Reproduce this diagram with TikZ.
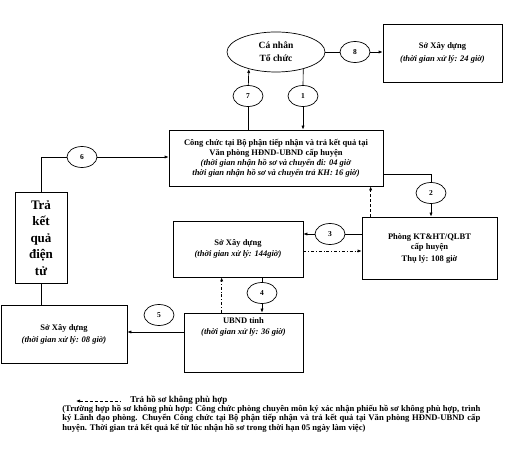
\documentclass[tikz,border=0pt]{standalone}
\usepackage{fontspec}
\setmainfont{Liberation Serif}
\usetikzlibrary{shapes.geometric,arrows.meta}

\begin{document}
\begin{tikzpicture}
  [ x=1pt, y=-1pt
  , line width=0.7pt
  , >={Latex[length=4pt,width=3.2pt]}
  , box/.style={draw=black,shape=rectangle,inner sep=0pt,align=center,
                font=\fontsize{8.5}{10}\selectfont}
  , num/.style={draw=black,shape=ellipse,fill=white,inner sep=0pt,
                minimum width=30pt,minimum height=21pt,
                font=\bfseries\fontsize{7.5}{8}\selectfont}
  , back/.style={dashed,dash pattern=on 3pt off 2pt}
  , fwd/.style={dash dot}
  ]
  \useasboundingbox (0,0) rectangle (512,454);

  % doi tuong
  \node[draw,shape=ellipse,minimum width=98pt,minimum height=40pt,align=center,
        font=\bfseries\fontsize{9.5}{13}\selectfont] (canhan) at (276,52) {Cá nhân\\Tổ chức};
  \node[box,minimum width=119pt,minimum height=58pt] (sxdtop) at (442.5,53)
    {\textbf{Sở Xây dựng}\\[3pt]\textbf{\textit{(thời gian xử lý: 24 giờ)}}};
  \node[box,minimum width=214pt,minimum height=56pt] (canbo) at (276,158)
    {\textbf{Công chức tại Bộ phận tiếp nhận và trả kết quả tại}\\
     \textbf{Văn phòng HĐND-UBND cấp huyện}\\
     \textbf{\textit{(thời gian nhận hồ sơ và chuyển đi: 04 giờ}}\\
     \textbf{\textit{thời gian nhận hồ sơ và chuyển trả KH: 16 giờ)}}};
  \node[box,minimum width=52pt,minimum height=91pt,
        font=\bfseries\fontsize{13}{16.5}\selectfont] (trakq) at (41,238)
    {Trả\\kết\\quả\\điện\\tử};
  \node[box,minimum width=135pt,minimum height=62pt] (phong) at (429.5,248)
    {\textbf{Phòng KT\&HT/QLBT}\\\textbf{cấp huyện}\\[2pt]\textbf{Thụ lý: 108 giờ}};
  \node[box,minimum width=130pt,minimum height=56pt] (sxdmid) at (238,249)
    {\textbf{Sở Xây dựng}\\[1pt]\textbf{\textit{(thời gian xử lý: 144giờ)}}};
  \node[box,minimum width=119pt,minimum height=59pt] (ubnd) at (243.5,342.5) {};
  \node[box,draw=none,anchor=north] (ubndtxt) at ([yshift=-5pt]ubnd.north)
    {\textbf{UBND tỉnh}\\[1pt]\textbf{\textit{(thời gian xử lý: 36 giờ)}}};
  \node[box,minimum width=126pt,minimum height=58pt] (sxdbot) at (64,334)
    {\textbf{Sở Xây dựng}\\[2pt]\textbf{\textit{(thời gian xử lý: 08 giờ)}}};

  % buoc
  \node[num] (b1) at (303,96)  {1};
  \node[num] (b2) at (431,193) {2};
  \node[num] (b3) at (330,234) {3};
  \node[num] (b4) at (262,293) {4};
  \node[num] (b5) at (159,315) {5};
  \node[num] (b6) at (82,157)  {6};
  \node[num] (b7) at (248,96)  {7};
  \node[num] (b8) at (355,52)  {8};

  \draw (canhan.east) -- (b8);
  \draw[->] (b8) -- (b8 -| sxdtop.west);

  \draw (canhan.328) -- (b1);
  \draw[->] (b1) -- (b1 |- canbo.north);

  \draw (canbo.north -| b7) -- (b7);
  \draw[->] (b7) -- (canhan.212);

  \draw ([yshift=-16pt]canbo.east) -| (b2);
  \draw[->] (b2) -- (b2 |- phong.north);
  \draw[back,->] ([xshift=9pt]phong.north west) -- ([xshift=9pt]phong.north west |- canbo.south);

  \draw (b3 -| phong.west) -- (b3);
  \draw[->] (b3) -- (b3 -| sxdmid.east);
  \draw[fwd,->] ([yshift=-2pt]sxdmid.east) -- ([yshift=-2pt]sxdmid.east -| phong.west);

  \draw (b4 |- sxdmid.south) -- (b4);
  \draw[->] (b4) -- (b4 |- ubnd.north);
  \draw[fwd,->] ([xshift=38pt]ubnd.north west) -- ([xshift=38pt]ubnd.north west |- sxdmid.south);

  \draw[->] ([yshift=10.5pt]ubnd.west) -- ([yshift=10.5pt]ubnd.west -| sxdbot.east);

  \draw (trakq.south) -- (trakq.south |- sxdbot.north);
  \draw (trakq.north) |- (b6);
  \draw[->] (b6) -- (b6 -| canbo.west);

  % chu thich
  \coordinate (lgleft)  at (76,401);
  \coordinate (lgright) at (120,401);
  \draw[back,<-] (lgleft) -- (lgright);
  \node[anchor=west,inner sep=0pt,font=\bfseries\fontsize{9}{10}\selectfont] (lgtext) at (130,400)
    {Trả hồ sơ không phù hợp};
  \node[anchor=north west,inner sep=0pt,text width=418pt,align=justify,
        font=\bfseries\fontsize{8.6}{9.2}\selectfont] (lgnote) at (62,405)
    {(Trường hợp hồ sơ không phù hợp: Công chức phòng chuyên môn ký xác nhận phiếu hồ sơ không phù hợp, trình\linebreak
     ký Lãnh đạo phòng. Chuyển Công chức tại Bộ phận tiếp nhận và trả kết quả tại Văn phòng HĐND-UBND cấp\linebreak
     huyện. Thời gian trả kết quả kể từ lúc nhận hồ sơ trong thời hạn 05 ngày làm việc)};

\end{tikzpicture}
\end{document}
